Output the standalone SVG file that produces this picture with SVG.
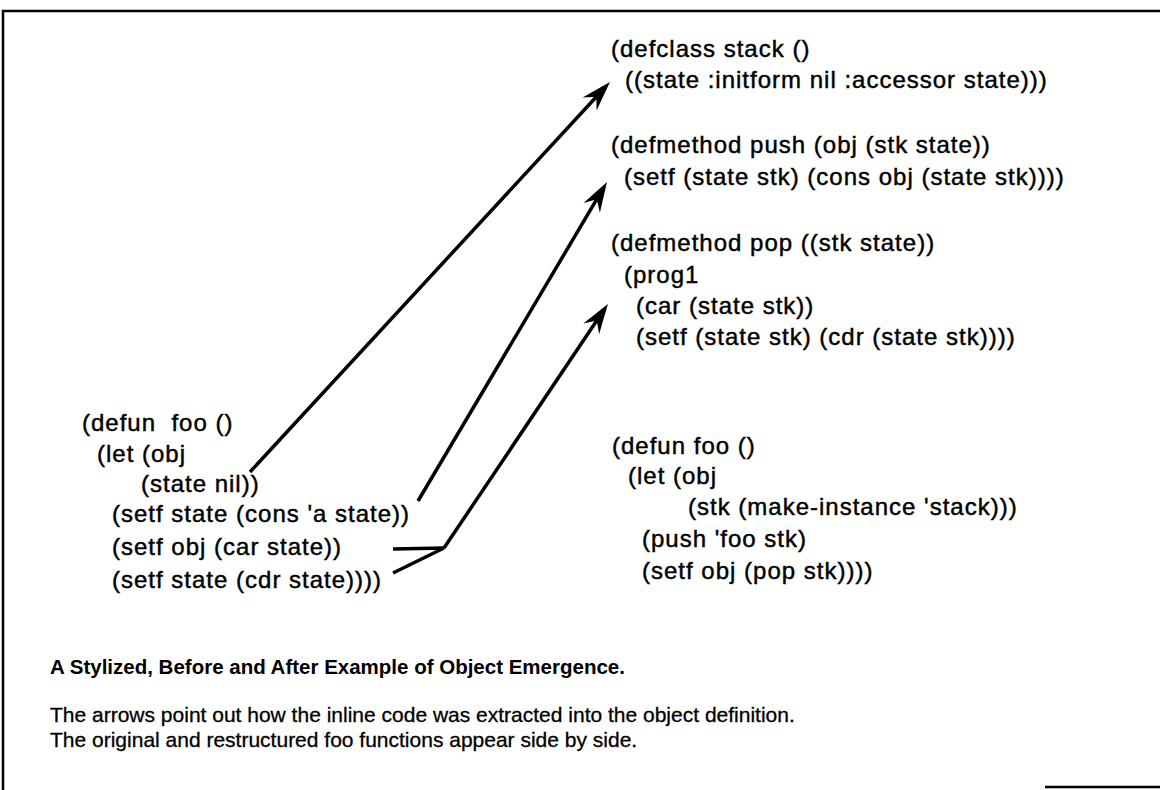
<svg xmlns="http://www.w3.org/2000/svg" width="1160" height="790" viewBox="0 0 1160 790">
<style>
.code{font-family:"Liberation Sans",Arial,sans-serif;font-size:24px;letter-spacing:1px;fill:#000;stroke:#000;stroke-width:0.45;white-space:pre}
.head{font-family:"Liberation Sans",Arial,sans-serif;font-size:20.5px;font-weight:bold;fill:#000}
.cap{font-family:"Liberation Sans",Arial,sans-serif;font-size:21px;fill:#000;stroke:#000;stroke-width:0.3}
.frame{fill:none;stroke:#000;stroke-width:2.5}
.conn{fill:none;stroke:#000;stroke-width:3.5;stroke-linecap:butt;stroke-linejoin:miter}
</style>
<defs>
<marker id="ah" markerUnits="userSpaceOnUse" markerWidth="32" markerHeight="20" refX="10" refY="10" orient="auto" overflow="visible">
<path d="M0,0.5 L30,10 L0,19.5 L10,10 Z" fill="#000"/>
</marker>
</defs>
<rect width="1160" height="790" fill="#fff"/>
<g id="frame">
<path class="frame" d="M3,790 L3,11 L1160,11"/>
<path class="frame" d="M1045,787 L1160,787"/>
</g>
<g id="defclass">
<text class="code" x="611" y="57">(defclass stack ()</text>
<text class="code" x="625" y="88">((state :initform nil :accessor state)))</text>
</g>
<g id="push">
<text class="code" x="611" y="153">(defmethod push (obj (stk state))</text>
<text class="code" x="624" y="185">(setf (state stk) (cons obj (state stk))))</text>
</g>
<g id="pop">
<text class="code" x="611" y="251">(defmethod pop ((stk state))</text>
<text class="code" x="624" y="283">(prog1</text>
<text class="code" x="636" y="314">(car (state stk))</text>
<text class="code" x="636" y="345">(setf (state stk) (cdr (state stk))))</text>
</g>
<g id="foo-before">
<text class="code" x="82" y="431">(defun  foo ()</text>
<text class="code" x="97" y="462">(let (obj</text>
<text class="code" x="141" y="492">(state nil))</text>
<text class="code" x="112" y="522">(setf state (cons 'a state))</text>
<text class="code" x="112" y="555">(setf obj (car state))</text>
<text class="code" x="112" y="588">(setf state (cdr state))))</text>
</g>
<g id="foo-after">
<text class="code" x="612" y="454">(defun foo ()</text>
<text class="code" x="628" y="484">(let (obj</text>
<text class="code" x="688" y="515">(stk (make-instance 'stack)))</text>
<text class="code" x="642" y="547">(push 'foo stk)</text>
<text class="code" x="642" y="579">(setf obj (pop stk))))</text>
</g>
<g id="connectors">
<path class="conn" d="M250,472 L596.4,96.7" marker-end="url(#ah)"/>
<path class="conn" d="M418,501 L596.8,199.2" marker-end="url(#ah)"/>
<path class="conn" d="M393,549 L444,548 M393,573 L444,548"/>
<path class="conn" d="M444,548 L596.8,320.6" marker-end="url(#ah)"/>
</g>
<g id="caption">
<text class="head" x="50" y="674">A Stylized, Before and After Example of Object Emergence.</text>
<text class="cap" x="50" y="722">The arrows point out how the inline code was extracted into the object definition.</text>
<text class="cap" x="50" y="747">The original and restructured foo functions appear side by side.</text>
</g>
</svg>
